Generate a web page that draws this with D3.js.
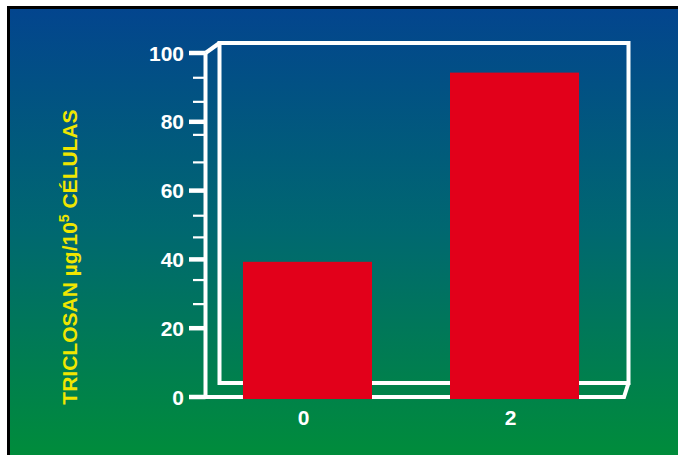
<!DOCTYPE html>
<html><head><meta charset="utf-8">
<script src="https://cdn.jsdelivr.net/npm/d3@7"></script>
<style>html,body{margin:0;padding:0;background:#fff;}svg{display:block;}</style>
</head><body>
<svg id="c" width="678" height="455"></svg>
<script>
const categories = ["0", "2"];
const values = [39.3, 94.3];
const majorTicks = [0, 20, 40, 60, 80, 100];
const minorTicks = [27.0, 34.0, 46.4, 52.7, 68.2, 76.2, 85.8, 92.8];
const yLabelMain = "TRICLOSAN µg/10";
const yLabelSup = "5";
const yLabelEnd = " CÉLULAS";

const svg = d3.select("#c");
const W = 678, H = 455;

const defs = svg.append("defs");
const g = defs.append("linearGradient").attr("id","bg").attr("x1",0).attr("y1",0).attr("x2",0).attr("y2",1);
g.append("stop").attr("offset","0%").attr("stop-color","#03458e");
g.append("stop").attr("offset","50%").attr("stop-color","#006870");
g.append("stop").attr("offset","100%").attr("stop-color","#008c3b");

svg.append("rect").attr("x",7).attr("y",6).attr("width",W-7).attr("height",H-6).attr("fill","#000");
svg.append("rect").attr("x",10).attr("y",9).attr("width",W-10).attr("height",H-9).attr("fill","url(#bg)");

const y = d3.scaleLinear().domain([0,100]).range([397,53]);
const x = d3.scaleBand().domain(categories).range([205.5,616.5]).paddingInner(0.3768).paddingOuter(0.181);

const frontX = 205.5, backX = 219.5, backTop = 43, backRight = 628.5, floorY = 383, frontRight = 624;
const white = "#fff";
const fr = svg.append("g").attr("fill","none").attr("stroke",white).attr("stroke-width",4).attr("stroke-linejoin","miter");
fr.append("path").attr("d",`M${backX},${floorY}V${backTop}H${backRight}V${floorY}H${backX - 2}`);
fr.append("path").attr("d",`M${frontX},${y(100)}L${backX},${backTop}`);
fr.append("path").attr("d",`M${frontX},${y(100)}V${y(0)}`);
fr.append("path").attr("d",`M189,${y(0)}H${frontRight}L${backRight},${floorY}`);

const ax = svg.append("g");
ax.selectAll("line.maj").data(majorTicks).join("line")
  .attr("x1",189).attr("x2",frontX).attr("y1",d=>y(d)).attr("y2",d=>y(d))
  .attr("stroke",white).attr("stroke-width",4.5);
ax.selectAll("line.min").data(minorTicks).join("line")
  .attr("x1",193).attr("x2",frontX).attr("y1",d=>y(d)).attr("y2",d=>y(d))
  .attr("stroke",white).attr("stroke-width",2.2);
ax.selectAll("text").data(majorTicks).join("text")
  .attr("x",184).attr("y",d=>y(d)).attr("dy","0.36em")
  .attr("text-anchor","end").attr("fill",white)
  .attr("font-family","Liberation Sans, Arial, sans-serif").attr("font-weight","bold").attr("font-size",21)
  .text(d=>d);

svg.append("g").selectAll("rect").data(values).join("rect")
  .attr("x",(d,i)=>x(categories[i])).attr("width",x.bandwidth())
  .attr("y",d=>y(d)).attr("height",d=>y(0)+2-y(d))
  .attr("fill","#e2001a");

svg.append("g").selectAll("text").data(categories).join("text")
  .attr("x",d=>x(d)+x.bandwidth()/2 - 4).attr("y",425)
  .attr("text-anchor","middle").attr("fill",white)
  .attr("font-family","Liberation Sans, Arial, sans-serif").attr("font-weight","bold").attr("font-size",21)
  .text(d=>d);

const yl = svg.append("text").attr("transform","translate(77,257) rotate(-90)")
  .attr("text-anchor","middle").attr("fill","#f0e600")
  .attr("font-family","Liberation Sans, Arial, sans-serif").attr("font-weight","bold").attr("font-size",21);
yl.append("tspan").text(yLabelMain);
yl.append("tspan").attr("dy",-8).attr("font-size",14).text(yLabelSup);
yl.append("tspan").attr("dy",8).text(yLabelEnd);
</script>
</body></html>
